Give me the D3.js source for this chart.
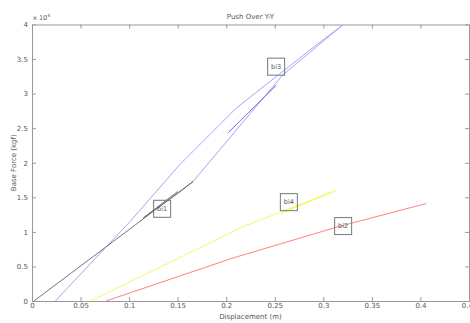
<!DOCTYPE html>
<html>
<head>
<meta charset="utf-8">
<script src="https://cdn.jsdelivr.net/npm/d3@7"></script>
<style>
  body { margin: 0; background: #fff; }
  text { font-family: "DejaVu Sans", sans-serif; fill: #555; }
</style>
</head>
<body>
<div id="chart"></div>
<script>
// values, force in units of 1e4 kgf
var xTicks = [0, 0.05, 0.1, 0.15, 0.2, 0.25, 0.3, 0.35, 0.4, 0.45];
var yTicks = [0, 0.5, 1, 1.5, 2, 2.5, 3, 3.5, 4];

var bi1Disp = [0.002, 0.1658, 0.1504, 0.1145, 0.1500];
var bi1Force = [0, 1.728, 1.56, 1.20, 1.584];

var bi3Disp = [0.024, 0.101, 0.152, 0.2103, 0.2924, 0.3197, 0.2581, 0.1658];
var bi3Force = [0, 1.15, 1.97, 2.79, 3.70, 3.99, 3.27, 1.728];
var bi3bDisp = [0.2017, 0.2514, 0.2030];
var bi3bForce = [2.43, 3.12, 2.45];

var bi4Disp = [0.0605, 0.1932, 0.2137, 0.3128, 0.2565, 0.3100];
var bi4Force = [0, 0.91, 1.055, 1.598, 1.27, 1.585];

var bi2Disp = [0.0762, 0.1934, 0.2035, 0.316, 0.406];
var bi2Force = [0, 0.558, 0.607, 1.078, 1.41];

var labels = ["bi1", "bi2", "bi3", "bi4"];
var labelDisp = [0.134, 0.3204, 0.2514, 0.2645];
var labelForce = [1.334, 1.084, 3.39, 1.43];

const width = 470, height = 323;
const margins = { top: 24.5, bottom: 22, left: 32, right: 1 };

var svg = d3.select("#chart").append("svg")
    .attr("width", width).attr("height", height);

var scaleX = d3.scaleLinear().domain([0, 0.45])
    .range([margins.left, width - margins.right]);
var scaleY = d3.scaleLinear().domain([0, 4])
    .range([height - margins.bottom, margins.top]);

function zip(xs, ys) {
    return xs.map((x, i) => [x, ys[i]]);
}

// axes (MATLAB style: ticks inward, boxed)
var fmt = d => d === 0 ? "0" : String(d);
var axisB = d3.axisBottom(scaleX).tickValues(xTicks).tickFormat(fmt).tickSizeInner(-4).tickSizeOuter(0).tickPadding(2);
var axisL = d3.axisLeft(scaleY).tickValues(yTicks).tickFormat(fmt).tickSizeInner(-4).tickSizeOuter(0).tickPadding(4);
var axisT = d3.axisTop(scaleX).tickValues(xTicks).tickFormat("").tickSizeInner(-4).tickSizeOuter(0);
var axisR = d3.axisRight(scaleY).tickValues(yTicks).tickFormat("").tickSizeInner(-4).tickSizeOuter(0);

function styleAxis(g) {
    g.selectAll("path, line").attr("stroke", "#999");
    g.selectAll("text").attr("fill", "#555").style("font-size", "7px")
        .style("font-family", "DejaVu Sans, sans-serif");
}

svg.append("g").attr("transform", "translate(0," + scaleY(0) + ")").call(axisB).call(styleAxis);
svg.append("g").attr("transform", "translate(" + scaleX(0) + ",0)").call(axisL).call(styleAxis);
svg.append("g").attr("transform", "translate(0," + scaleY(4) + ")").call(axisT).call(styleAxis);
svg.append("g").attr("transform", "translate(" + scaleX(0.45) + ",0)").call(axisR).call(styleAxis);

// series
var line = d3.line().x(d => scaleX(d[0])).y(d => scaleY(d[1]));
var series = [
    { pts: zip(bi2Disp, bi2Force), color: "#ff7272" },
    { pts: zip(bi4Disp, bi4Force), color: "#f6f65a" },
    { pts: zip(bi3Disp, bi3Force), color: "#9a9af5" },
    { pts: zip(bi3bDisp, bi3bForce), color: "#7f7ff0" },
    { pts: zip(bi1Disp, bi1Force), color: "#666" }
];
svg.selectAll(".series").data(series).enter().append("path")
    .attr("class", "series")
    .attr("d", d => line(d.pts))
    .attr("fill", "none")
    .attr("stroke", d => d.color)
    .attr("stroke-width", 0.9);

// boxed text labels
var lab = svg.selectAll(".lab").data(labels).enter().append("g")
    .attr("class", "lab")
    .attr("transform", (d, i) => "translate(" + scaleX(labelDisp[i]) + "," + scaleY(labelForce[i]) + ")");
lab.append("rect")
    .attr("x", -8.5).attr("y", -8.5).attr("width", 17).attr("height", 17)
    .attr("fill", "none").attr("stroke", "#777").attr("stroke-width", 1);
lab.append("text")
    .attr("text-anchor", "middle").attr("dy", "0.35em")
    .style("font-size", "6.5px")
    .text(d => d);

// titles
svg.append("text").attr("x", (scaleX(0) + scaleX(0.45)) / 2).attr("y", 19)
    .attr("text-anchor", "middle").style("font-size", "7px").text("Push Over  Y-Y");
svg.append("text").attr("x", (scaleX(0) + scaleX(0.45)) / 2).attr("y", 319)
    .attr("text-anchor", "middle").style("font-size", "7px").text("Displacement (m)");
svg.append("text")
    .attr("transform", "translate(16," + ((scaleY(0) + scaleY(4)) / 2) + ") rotate(-90)")
    .attr("text-anchor", "middle").style("font-size", "7px").text("Base Force (kgf)");
var mult = svg.append("text").attr("x", scaleX(0) + 1).attr("y", 20).style("font-size", "6.5px");
mult.append("tspan").text("x 10");
mult.append("tspan").attr("dy", -3).style("font-size", "4.5px").text("4");
</script>
</body>
</html>
